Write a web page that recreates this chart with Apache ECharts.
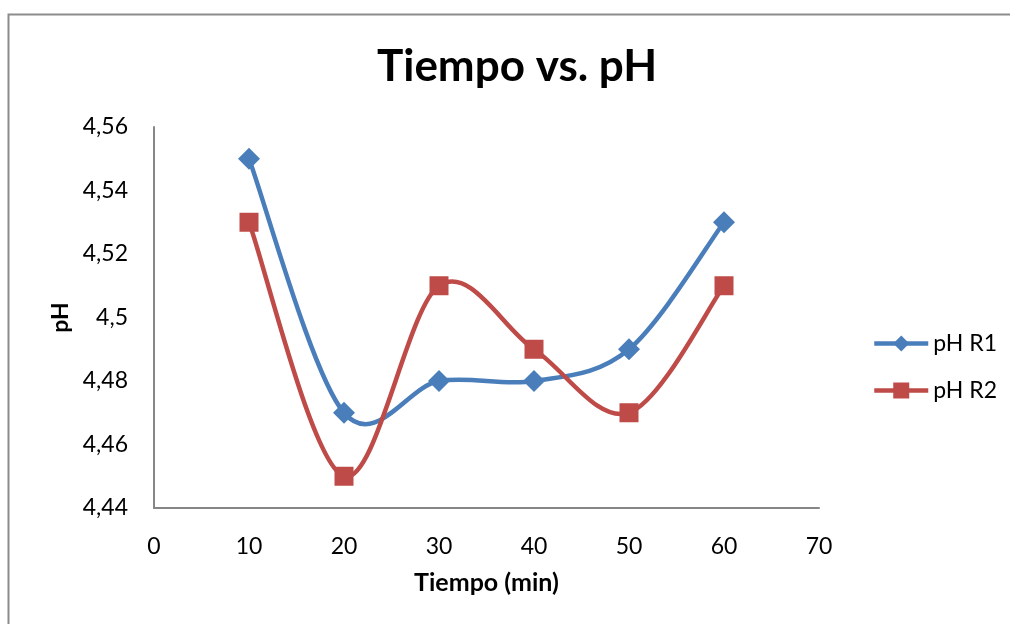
<!DOCTYPE html>
<html>
<head>
<meta charset="utf-8">
<script src="https://cdn.jsdelivr.net/npm/echarts@6/dist/echarts.min.js"></script>
<style>
  html, body { margin: 0; padding: 0; background: #fff; }
  #chart { width: 1010px; height: 624px; }
</style>
</head>
<body>
<div id="chart"></div>
<script>
// Sampling times (min) and pH readings for both reactors
const tiempos = [10, 20, 30, 40, 50, 60];
const phR1 = [4.55, 4.47, 4.48, 4.48, 4.49, 4.53];
const phR2 = [4.53, 4.45, 4.51, 4.49, 4.47, 4.51];
const seriesNames = ['pH R1', 'pH R2'];

const FONT = 'Lato, "Open Sans", sans-serif';
const AXIS_GRAY = '#868686';
const BLUE = '#4a7ebb';
const RED = '#be4b48';

const pairs = (xs, ys) => xs.map((x, i) => [x, ys[i]]);
// Decimal comma, trailing zeros dropped (4.50 -> "4,5")
const fmtPH = v => String(parseFloat(v.toFixed(2))).replace('.', ',');

// Smoothed curve: one cubic Bezier per segment, Catmull-Rom style control
// points (neighbour difference / 6), computed in pixel space via api.coord.
function smoothSegment(ys, color) {
  return function (params, api) {
    const i = params.dataIndex;
    const n = tiempos.length;
    if (i >= n - 1) return null;
    const pt = k => api.coord([tiempos[Math.max(0, Math.min(n - 1, k))], ys[Math.max(0, Math.min(n - 1, k))]]);
    const p0 = pt(i - 1), p1 = pt(i), p2 = pt(i + 1), p3 = pt(i + 2);
    return {
      type: 'bezierCurve',
      shape: {
        x1: p1[0], y1: p1[1],
        x2: p2[0], y2: p2[1],
        cpx1: p1[0] + (p2[0] - p0[0]) / 6, cpy1: p1[1] + (p2[1] - p0[1]) / 6,
        cpx2: p2[0] - (p3[0] - p1[0]) / 6, cpy2: p2[1] - (p3[1] - p1[1]) / 6
      },
      style: { stroke: color, lineWidth: 4.5, fill: null, lineCap: 'round' },
      silent: true
    };
  };
}

const chart = echarts.init(document.getElementById('chart'), null, { renderer: 'canvas' });

chart.setOption({
  backgroundColor: '#fff',
  animation: false,
  graphic: [{
    type: 'rect',
    shape: { x: 8.5, y: 14.5, width: 1020, height: 640 },
    style: { fill: 'none', stroke: '#8c8c8c', lineWidth: 2 },
    silent: true
  }],
  title: {
    text: 'Tiempo vs. pH',
    left: 372,
    top: 40,
    textStyle: { fontFamily: FONT, fontSize: 44, fontWeight: 'bold', color: '#000' }
  },
  legend: {
    orient: 'vertical',
    left: 872,
    top: 332,
    padding: 0,
    itemWidth: 54,
    itemHeight: 20,
    itemGap: 24,
    lineStyle: { width: 4.5, opacity: 1 },
    textStyle: { fontFamily: FONT, fontSize: 23, color: '#000' },
    data: seriesNames
  },
  grid: { left: 154, right: 191, top: 127, bottom: 116, containLabel: false },
  xAxis: {
    type: 'value',
    min: 0, max: 70, interval: 10,
    name: 'Tiempo (min)',
    nameLocation: 'middle',
    nameGap: 62,
    nameTextStyle: { fontFamily: FONT, fontSize: 25, fontWeight: 'bold', color: '#000' },
    axisLine: { show: true, lineStyle: { color: AXIS_GRAY, width: 2 } },
    axisTick: { show: false },
    splitLine: { show: false },
    axisLabel: { fontFamily: FONT, fontSize: 23, color: '#000', margin: 27 }
  },
  yAxis: {
    type: 'value',
    min: 4.44, max: 4.56, interval: 0.02,
    name: 'pH',
    nameLocation: 'middle',
    nameGap: 80,
    nameRotate: 90,
    nameTextStyle: { fontFamily: FONT, fontSize: 23, fontWeight: 'bold', color: '#000' },
    axisLine: { show: true, lineStyle: { color: AXIS_GRAY, width: 2 } },
    axisTick: { show: false },
    splitLine: { show: false },
    axisLabel: { fontFamily: FONT, fontSize: 23, color: '#000', margin: 26, formatter: fmtPH }
  },
  series: [
    {
      type: 'custom',
      coordinateSystem: 'cartesian2d',
      data: pairs(tiempos, phR1),
      renderItem: smoothSegment(phR1, BLUE),
      z: 2
    },
    {
      name: seriesNames[0],
      type: 'line',
      data: pairs(tiempos, phR1),
      symbol: 'diamond',
      symbolSize: 22,
      lineStyle: { color: BLUE, width: 0 },
      itemStyle: { color: BLUE },
      z: 3
    },
    {
      type: 'custom',
      coordinateSystem: 'cartesian2d',
      data: pairs(tiempos, phR2),
      renderItem: smoothSegment(phR2, RED),
      z: 4
    },
    {
      name: seriesNames[1],
      type: 'line',
      data: pairs(tiempos, phR2),
      symbol: 'rect',
      symbolSize: 19,
      lineStyle: { color: RED, width: 0 },
      itemStyle: { color: RED },
      z: 5
    }
  ]
});
</script>
</body>
</html>
